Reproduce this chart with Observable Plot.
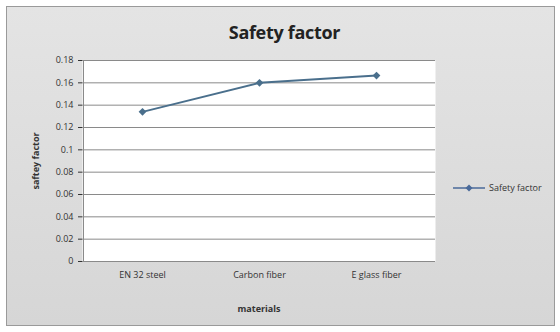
<!DOCTYPE html>
<html><head><meta charset="utf-8">
<script src="https://cdn.jsdelivr.net/npm/d3@7"></script>
<script src="https://cdn.jsdelivr.net/npm/@observablehq/plot@0.6"></script>
<style>
body{margin:0;background:#fff;font-family:"Open Sans",sans-serif;}
#wrap{position:relative;width:560px;height:332px;}
#frame{position:absolute;left:6px;top:6px;width:549px;height:320px;border:1px solid #9a9a9a;box-sizing:border-box;background:linear-gradient(#e4e4e4,#d6d6d6);}
#title{height:47px;line-height:50px;text-align:center;font-weight:bold;font-size:18px;color:#222;padding-left:8px;letter-spacing:-0.3px;}
#legend{position:absolute;left:452px;top:181px;font-size:9px;color:#333;display:flex;align-items:center;gap:3px;}
</style></head><body>
<div id="wrap"><div id="frame"><div id="title">Safety factor</div><div id="chart"></div></div>
<div id="legend"><svg width="34" height="10"><line x1="1" y1="5" x2="33" y2="5" stroke="#4a6a9a" stroke-width="1.5"/><path d="M17,1.5L20.5,5L17,8.5L13.5,5Z" fill="#4a6a9a"/></svg><span>Safety factor</span></div>
</div>
<script>
const materials = ["EN 32 steel", "Carbon fiber", "E glass fiber"];
const safetyFactor = [0.134, 0.160, 0.1665];
const yTicks = [0, 0.02, 0.04, 0.06, 0.08, 0.1, 0.12, 0.14, 0.16, 0.18];
const seriesName = "Safety factor";

const data = materials.map((m, i) => ({material: m, value: safetyFactor[i]}));
const color = "#4a6f8c";
const chart = Plot.plot({
  width: 547, height: 266,
  marginTop: 6, marginLeft: 75, marginRight: 119, marginBottom: 59,
  style: {background: "transparent", fontFamily: "Open Sans, sans-serif", fontSize: "9px", color: "#333"},
  x: {type: "point", domain: materials, padding: 0.5, label: "materials", labelAnchor: "center", labelOffset: 50, tickSize: 0, tickPadding: 10},
  y: {domain: [0, 0.18], ticks: yTicks, tickFormat: d => String(+d.toFixed(2)), label: "saftey factor", labelArrow: "none", labelAnchor: "center", labelOffset: 50, tickSize: 4},
  marks: [
    Plot.frame({fill: "white", stroke: "none"}),
    Plot.gridY(yTicks, {stroke: "#8a8a8a", strokeOpacity: 1, strokeWidth: 1}),
    Plot.ruleX([materials[0]], {dx: -59, stroke: "#8a8a8a"}),
    Plot.ruleY([0], {stroke: "#8a8a8a"}),
    Plot.line(data, {x: "material", y: "value", stroke: color, strokeWidth: 2}),
    Plot.dot(data, {x: "material", y: "value", symbol: "diamond2", r: 3.5, fill: color})
  ]
});
chart.querySelectorAll("[aria-label='x-axis label'] text, [aria-label='y-axis label'] text").forEach(t => {
  t.setAttribute("font-weight", "bold");
  t.textContent = t.textContent.replace(/\s*[↑→↓←]\s*/g, "");
});
document.getElementById("chart").appendChild(chart);
</script>
</body></html>
